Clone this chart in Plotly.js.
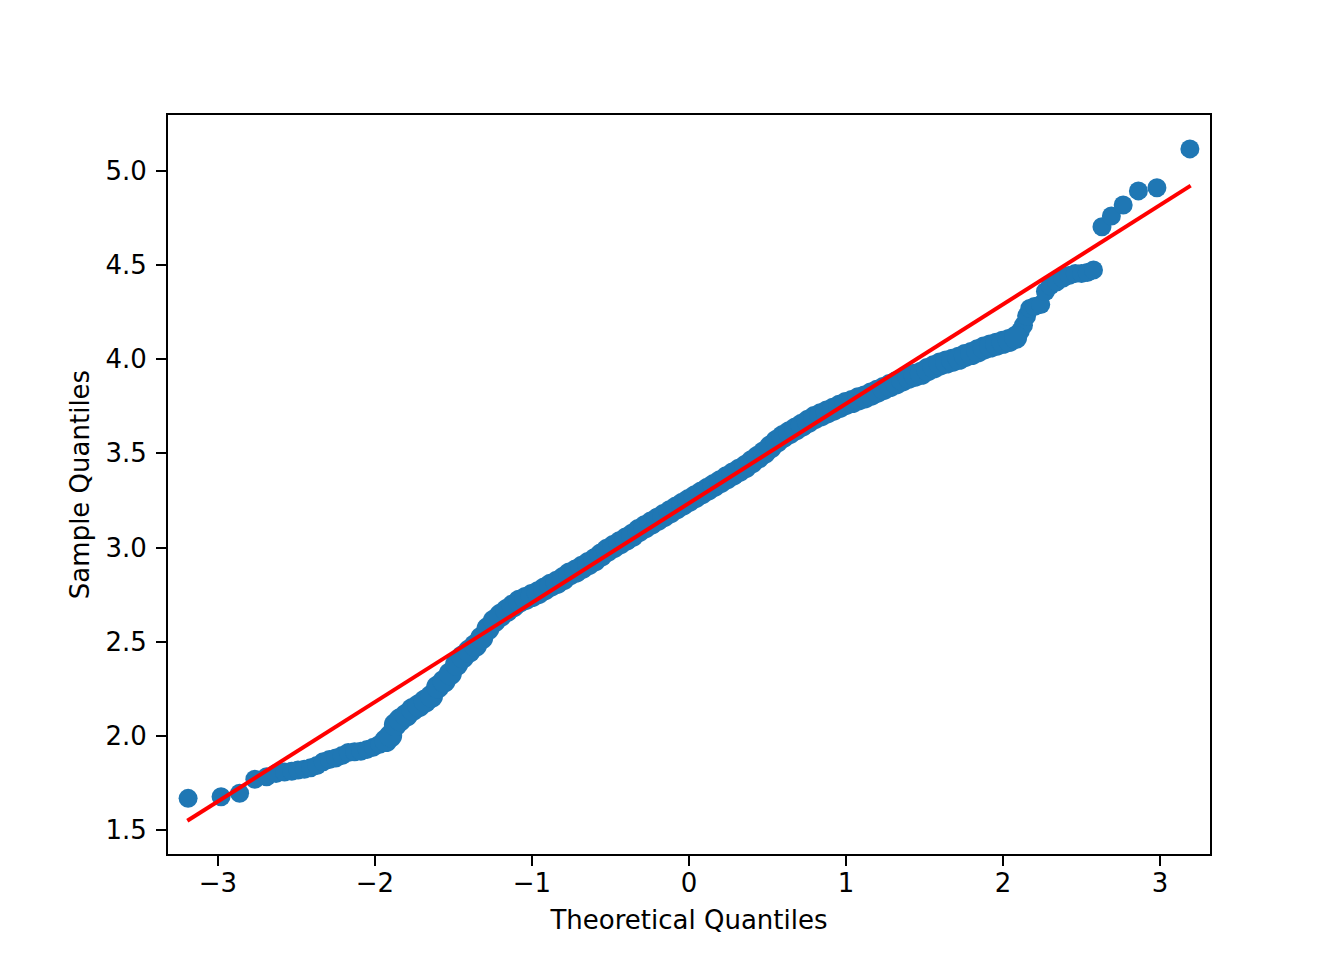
<!DOCTYPE html>
<html>
<head>
<meta charset="utf-8">
<script src="https://cdn.plot.ly/plotly-3.0.1.min.js"></script>
<style>html,body{margin:0;padding:0;background:#fff;}#chart{width:1344px;height:960px;}</style>
</head>
<body>
<div id="chart"></div>
<script>
// Theoretical quantiles (x) and sample quantiles (y)
const theoretical = [
  -3.19, -2.98, -2.862, -2.765, -2.69, -2.63, -2.576,
  -2.53, -2.49, -2.45, -2.41, -2.37, -2.33, -2.29, -2.25, -2.21, -2.17, -2.13, -2.09, -2.05, -2.01,
  -1.97, -1.93, -1.90, -1.87, -1.84, -1.80, -1.76, -1.72, -1.68, -1.64, -1.60, -1.56, -1.52, -1.48,
  -1.44, -1.40, -1.36, -1.32, -1.28, -1.24, -1.20, -1.16, -1.12, -1.08, -1.04, -1.00, -0.96, -0.92,
  -0.88, -0.84, -0.80, -0.76, -0.72, -0.68, -0.64, -0.60, -0.56, -0.52, -0.48, -0.44, -0.40, -0.36,
  -0.32, -0.28, -0.24, -0.20, -0.16, -0.12, -0.08, -0.04, 0.00, 0.04, 0.08, 0.12, 0.16, 0.20, 0.24,
  0.28, 0.32, 0.36, 0.40, 0.44, 0.48, 0.52, 0.56, 0.60, 0.64, 0.68, 0.72, 0.76, 0.80, 0.84, 0.88,
  0.92, 0.96, 1.00, 1.04, 1.08, 1.12, 1.16, 1.20, 1.24, 1.28, 1.32, 1.36, 1.40, 1.44, 1.48, 1.52,
  1.56, 1.60, 1.64, 1.68, 1.72, 1.76, 1.80, 1.84, 1.88, 1.92, 1.96, 2.00, 2.04, 2.08, 2.11, 2.13,
  2.15, 2.17, 2.20, 2.24, 2.27, 2.30, 2.34, 2.38, 2.42, 2.46, 2.50, 2.536, 2.576,
  2.63, 2.69, 2.765, 2.862, 2.98, 3.19
];
const sample = [
  1.668, 1.677, 1.695, 1.769, 1.783, 1.800, 1.808,
  1.812, 1.818, 1.822, 1.830, 1.842, 1.862, 1.874, 1.882, 1.895, 1.912, 1.916, 1.918, 1.928, 1.940,
  1.955, 1.975, 2.000, 2.060, 2.085, 2.110, 2.140, 2.160, 2.185, 2.210, 2.260, 2.290, 2.330, 2.380,
  2.420, 2.450, 2.480, 2.520, 2.570, 2.610, 2.640, 2.665, 2.690, 2.715, 2.730, 2.745, 2.760, 2.780,
  2.800, 2.815, 2.835, 2.860, 2.875, 2.895, 2.915, 2.935, 2.960, 2.985, 3.005, 3.025, 3.045, 3.065,
  3.090, 3.110, 3.130, 3.150, 3.170, 3.190, 3.210, 3.230, 3.250, 3.270, 3.290, 3.310, 3.330, 3.350, 3.370,
  3.390, 3.410, 3.430, 3.455, 3.480, 3.505, 3.535, 3.565, 3.590, 3.610, 3.630, 3.650, 3.670, 3.690, 3.705, 3.720,
  3.735, 3.750, 3.765, 3.775, 3.790, 3.800, 3.815, 3.830, 3.845, 3.860, 3.875, 3.890, 3.905, 3.915, 3.925, 3.945,
  3.960, 3.975, 3.985, 3.995, 4.005, 4.020, 4.030, 4.045, 4.060, 4.070, 4.080, 4.090, 4.100, 4.115, 4.150, 4.180,
  4.230, 4.270, 4.280, 4.290, 4.360, 4.390, 4.410, 4.430, 4.445, 4.455, 4.455, 4.460, 4.474,
  4.704, 4.761, 4.819, 4.894, 4.911, 5.117
];
// Reference line endpoints
const lineX = [-3.195, 3.195];
const lineY = [1.549, 4.922];

const xTicks = [-3, -2, -1, 0, 1, 2, 3];
const yTicks = [1.5, 2.0, 2.5, 3.0, 3.5, 4.0, 4.5, 5.0];
const yTickText = ["1.5", "2.0", "2.5", "3.0", "3.5", "4.0", "4.5", "5.0"];

const font = {family: "DejaVu Sans", size: 26, color: "#000"};

// In the dense middle of the sample many points overlap into a thicker band;
// draw that part with a slightly larger marker so the band keeps its weight.
const denseLo = -1.95, denseHi = 2.1;
const core = {x: [], y: []}, tails = {x: [], y: []};
theoretical.forEach((t, i) => {
  const bucket = (t >= denseLo && t <= denseHi) ? core : tails;
  bucket.x.push(t); bucket.y.push(sample[i]);
});

const traces = [
  {
    x: tails.x, y: tails.y, type: "scatter", mode: "markers",
    marker: {color: "#1f77b4", size: 19, line: {width: 0}},
    hoverinfo: "skip", showlegend: false
  },
  {
    x: core.x, y: core.y, type: "scatter", mode: "markers",
    marker: {color: "#1f77b4", size: 23, line: {width: 0}},
    hoverinfo: "skip", showlegend: false
  },
  {
    x: lineX, y: lineY, type: "scatter", mode: "lines",
    line: {color: "#ff0000", width: 4},
    hoverinfo: "skip", showlegend: false
  }
];

const layout = {
  width: 1344, height: 960,
  paper_bgcolor: "#fff", plot_bgcolor: "#fff",
  margin: {l: 168, r: 134, t: 115, b: 106},
  font: font,
  showlegend: false,
  xaxis: {
    range: [-3.318, 3.318],
    tickvals: xTicks,
    ticks: "outside", ticklen: 10, tickwidth: 2, tickcolor: "#000",
    showline: true, linecolor: "#000", linewidth: 2, mirror: true,
    showgrid: false, zeroline: false,
    tickfont: font,
    ticklabelstandoff: -5,
    title: {text: "Theoretical Quantiles", font: font, standoff: 14},
    automargin: false
  },
  yaxis: {
    range: [1.3725, 5.297],
    tickvals: yTicks, ticktext: yTickText,
    ticks: "outside", ticklen: 10, tickwidth: 2, tickcolor: "#000",
    showline: true, linecolor: "#000", linewidth: 2, mirror: true,
    showgrid: false, zeroline: false,
    tickfont: font,
    ticklabelstandoff: 4,
    title: {text: "Sample Quantiles", font: font, standoff: 8},
    automargin: false
  }
};

Plotly.newPlot("chart", traces, layout, {staticPlot: true, displayModeBar: false});
</script>
</body>
</html>
